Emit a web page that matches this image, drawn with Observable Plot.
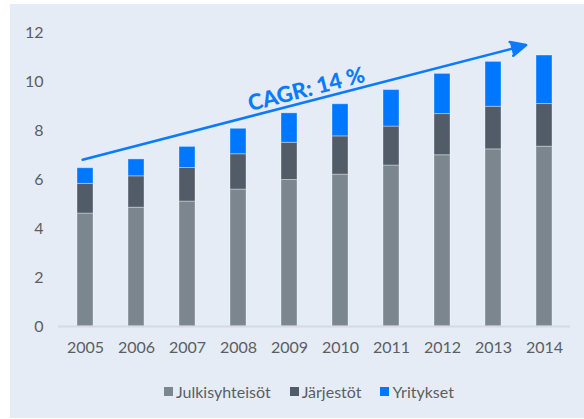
<!DOCTYPE html>
<html><head><meta charset="utf-8">
<script src="https://cdn.jsdelivr.net/npm/d3@7"></script>
<script src="https://cdn.jsdelivr.net/npm/@observablehq/plot@0.6"></script>
<style>
body{margin:0;background:#ffffff;font-family:Lato,sans-serif;}
#panel{position:absolute;left:10px;top:4px;width:574px;height:414px;background:#e5ecf6;overflow:hidden;}
#chart{position:absolute;left:0;top:0;}
#legend{position:absolute;left:154px;top:378px;height:18px;display:flex;align-items:center;font-size:16px;color:#5b5e62;font-family:Lato,sans-serif;white-space:nowrap;}
.item{display:flex;align-items:center;margin-right:19px;}
.sw{width:9px;height:9px;margin-right:3px;}
</style></head><body>
<div id="panel"><div id="chart"></div><div id="legend"></div></div>
<script>
const years = ["2005","2006","2007","2008","2009","2010","2011","2012","2013","2014"];
const julkisyhteisot = [4.61, 4.85, 5.10, 5.59, 5.98, 6.20, 6.57, 6.99, 7.23, 7.34];
const jarjestot = [1.21, 1.28, 1.37, 1.44, 1.52, 1.56, 1.59, 1.68, 1.74, 1.74];
const yritykset = [0.64, 0.69, 0.86, 1.04, 1.20, 1.31, 1.49, 1.64, 1.83, 1.98];
const seriesNames = ["Julkisyhteisöt", "Järjestöt", "Yritykset"];
const seriesColors = ["#7b868e", "#525b68", "#0077ff"];
const yTicks = [0, 2, 4, 6, 8, 10, 12];
const cagrLabel = "CAGR: 14 %";
const trendYears = ["2005", "2014"];
const trendValues = [6.84, 11.68];
const labelAnchorYear = "2009";
const labelAnchorValue = 9.67;

const seriesValues = [julkisyhteisot, jarjestot, yritykset];
const rows = [];
seriesNames.forEach((s, i) => years.forEach((y, j) => rows.push({year: y, series: s, value: seriesValues[i][j]})));
const trend = [{x1: trendYears[0], x2: trendYears[1], y1: trendValues[0], y2: trendValues[1]}];
const blue = "#0a7bff";

const chart = Plot.plot({
  width: 574, height: 360,
  marginLeft: 48, marginRight: 14, marginTop: 28, marginBottom: 38,
  x: {domain: years, paddingInner: 0.69, paddingOuter: 0.345, label: null, tickSize: 0, tickPadding: 15},
  y: {domain: [0, 12], ticks: yTicks, label: null, tickSize: 0, tickPadding: 15},
  color: {domain: seriesNames, range: seriesColors},
  style: {fontFamily: "Lato, sans-serif", fontSize: "16px", color: "#5b5e62", background: "transparent", overflow: "visible"},
  marks: [
    Plot.barY(rows, {x: "year", y: "value", fill: "series", stroke: "#ffffff", strokeOpacity: 0.35, strokeWidth: 1}),
    Plot.ruleY([0], {stroke: "#d6d9de", strokeWidth: 2}),
    Plot.arrow(trend, {x1: "x1", y1: "y1", x2: "x2", y2: "y2", stroke: blue, fill: blue, strokeWidth: 2.5, headLength: 10, headAngle: 50, insetStart: -3, insetEnd: 19}),
    Plot.text([cagrLabel], {x: () => labelAnchorYear, y: () => labelAnchorValue, text: d => d, rotate: -14.4, dx: 17, fill: blue, fontWeight: 900, fontSize: 22, fontFamily: "Lato, sans-serif"})
  ]
});
document.getElementById("chart").appendChild(chart);

const legend = document.getElementById("legend");
seriesNames.forEach((s, i) => {
  const it = document.createElement("div"); it.className = "item";
  const sw = document.createElement("div"); sw.className = "sw"; sw.style.background = seriesColors[i];
  const t = document.createElement("span"); t.textContent = s;
  it.appendChild(sw); it.appendChild(t); legend.appendChild(it);
});
</script>
</body></html>
